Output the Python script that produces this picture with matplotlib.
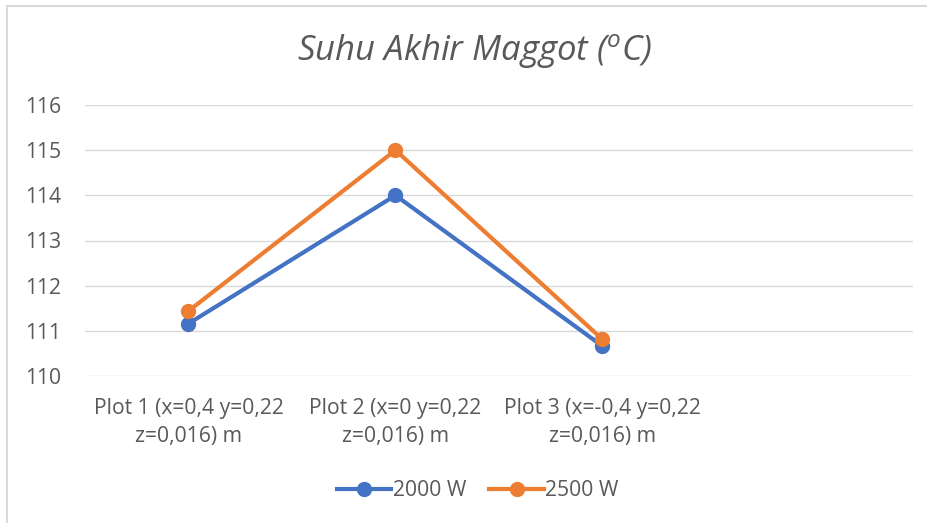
import matplotlib
matplotlib.use("Agg")
import matplotlib.pyplot as plt
from matplotlib.lines import Line2D

# data
categories = ["Plot 1 (x=0,4 y=0,22\nz=0,016) m",
              "Plot 2 (x=0 y=0,22\nz=0,016) m",
              "Plot 3 (x=-0,4 y=0,22\nz=0,016) m",
              ""]
temp_2000 = [111.16, 114.0, 110.66]
temp_2500 = [111.44, 115.0, 110.81]
series_labels = ["2000 W", "2500 W"]
y_ticks = [110, 111, 112, 113, 114, 115, 116]

TXT = "#595959"
GRID = "#D9D9D9"

plt.rcParams["font.family"] = ["Open Sans", "DejaVu Sans"]
plt.rcParams["mathtext.fontset"] = "custom"
plt.rcParams["mathtext.it"] = "Open Sans:italic"
plt.rcParams["mathtext.rm"] = "Open Sans"

fig = plt.figure(figsize=(9.28, 5.23), dpi=100)
ax = fig.add_axes([85 / 928, 1 - 376 / 523, (913 - 85) / 928, (376 - 105) / 523])

x = list(range(len(categories)))
ax.plot(x[:3], temp_2000, "-o", color="#4472C4", lw=3, ms=10,
        label=series_labels[0], zorder=3)
ax.plot(x[:3], temp_2500, "-o", color="#ED7D31", lw=3, ms=10,
        label=series_labels[1], zorder=4)

ax.set_xlim(-0.5, 3.5)
ax.set_ylim(110, 116)
ax.set_yticks(y_ticks)
ax.set_xticks(x)
ax.set_xticklabels(categories, linespacing=1.45)
ax.tick_params(axis="both", length=0, colors=TXT, labelsize=15.2)
ax.tick_params(axis="x", pad=16)
ax.tick_params(axis="y", pad=17)
ax.grid(axis="y", color=GRID, lw=1)
ax.set_axisbelow(True)
for s in ax.spines.values():
    s.set_visible(False)

fig.text(474.5 / 928, 1 - 52 / 523, "Suhu Akhir Maggot ($^{o}$C)", ha="center", va="center",
         fontsize=25, style="italic", color=TXT)

leg = fig.legend(loc="center", bbox_to_anchor=(477.5 / 928, 1 - 491 / 523), ncol=2,
                 frameon=False, fontsize=15.2, handlelength=2.6,
                 columnspacing=1.1, handletextpad=0.05)
for t in leg.get_texts():
    t.set_color(TXT)

# chart border: only the left and top edges show in the reference
fig.add_artist(Line2D([7 / 928, 7 / 928], [0, 1 - 6 / 523],
                      transform=fig.transFigure, color=GRID, lw=1.5))
fig.add_artist(Line2D([7 / 928, 1], [1 - 6 / 523, 1 - 6 / 523],
                      transform=fig.transFigure, color=GRID, lw=1.5))

fig.savefig("out.png", dpi=100)
